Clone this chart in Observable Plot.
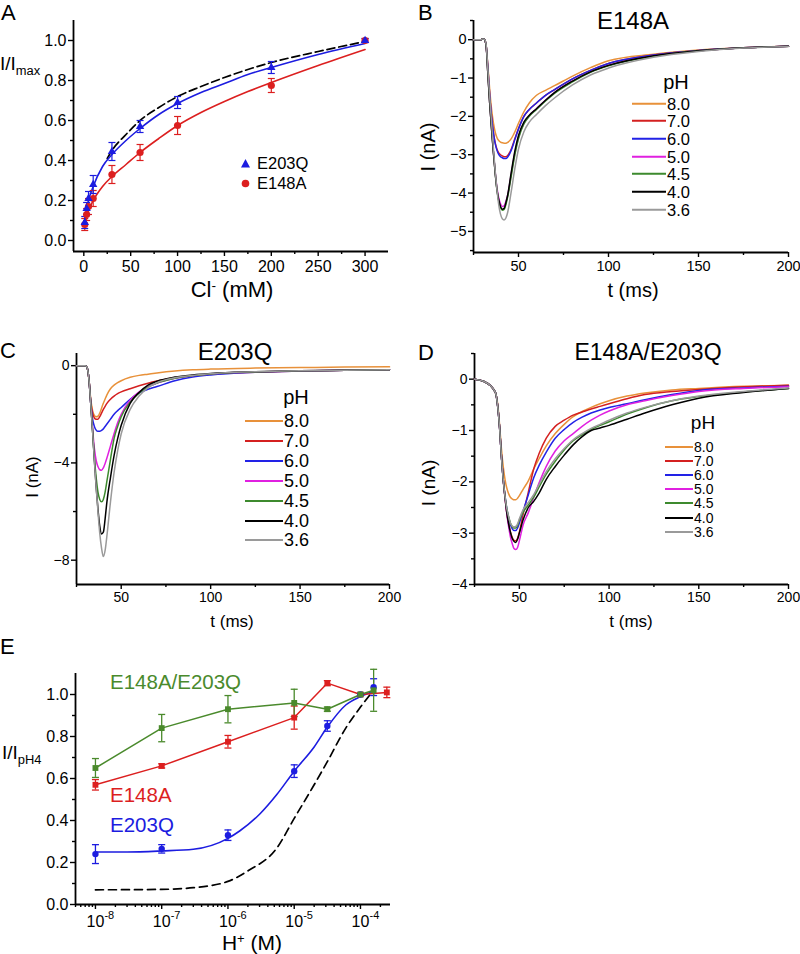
<!DOCTYPE html>
<html><head><meta charset="utf-8">
<script src="https://cdn.jsdelivr.net/npm/d3@7"></script>
<script src="https://cdn.jsdelivr.net/npm/@observablehq/plot@0.6"></script>
<style>
body{margin:0;background:#fff;}
#fig{position:relative;width:800px;height:954px;overflow:hidden;font-family:"Liberation Sans",Arial,sans-serif;color:#000;background:#fff;}
.abs{position:absolute;white-space:nowrap;line-height:1;}
.sub{font-size:0.68em;position:relative;top:0.38em;}
.sup{font-size:0.62em;position:relative;top:-0.55em;}
</style></head><body><div id="fig"></div><script>
// ---------------- DATA ----------------
// Panel A: Cl- dependence
const clX = [1, 3, 5, 10, 30, 60, 100, 200, 300];
const a203Y = [0.09, 0.16, 0.21, 0.28, 0.445, 0.57, 0.69, 0.865, 1.0];
const a203Err = [0.03, 0.03, 0.035, 0.045, 0.045, 0.03, 0.03, 0.03, 0.01];
const a148Y = [0.08, 0.13, 0.17, 0.21, 0.33, 0.44, 0.575, 0.775, 1.0];
const a148Err = [0.03, 0.03, 0.04, 0.04, 0.045, 0.04, 0.045, 0.035, 0.01];
const aFitX = [1, 3, 5, 10, 20, 30, 45, 60, 80, 100, 125, 150, 175, 200, 250, 300];
const aFit203 = [0.1, 0.16, 0.2, 0.27, 0.37, 0.43, 0.5, 0.56, 0.63, 0.685, 0.74, 0.785, 0.83, 0.865, 0.93, 0.985];
const aFit148 = [0.07, 0.12, 0.15, 0.2, 0.27, 0.32, 0.38, 0.44, 0.51, 0.575, 0.64, 0.695, 0.745, 0.79, 0.875, 0.955];
const aDashX = [25, 30, 45, 60, 80, 100, 125, 150, 175, 200, 250, 300];
const aDashY = [0.41, 0.45, 0.53, 0.6, 0.665, 0.72, 0.77, 0.815, 0.855, 0.89, 0.945, 0.995];

// pH series (shared by B, C, D)
const pHLabels = ["8.0", "7.0", "6.0", "5.0", "4.5", "4.0", "3.6"];
const pHColors = ["#e8913a", "#d42020", "#2222e6", "#e020e0", "#3d8a2e", "#000000", "#9a9a9a"];

// Panel B: E148A traces
const tB = [25,29,30,31,32,33,34,35,36,37,38,39,40,41,42,43,44,46,48,50,53,56,60,65,70,80,90,100,125,150,175,200];
const B80 = [0,0,0.02,0.01,-0.15,-0.7,-1.3,-1.8,-2.15,-2.4,-2.55,-2.63,-2.67,-2.69,-2.7,-2.7,-2.68,-2.58,-2.4,-2.18,-1.88,-1.65,-1.45,-1.32,-1.2,-0.95,-0.73,-0.55,-0.38,-0.27,-0.21,-0.17];
const B70 = [0,0,0.02,0.01,-0.15,-0.75,-1.45,-2.0,-2.4,-2.68,-2.85,-2.95,-3.0,-3.03,-3.05,-3.05,-3.02,-2.85,-2.58,-2.32,-2.0,-1.82,-1.65,-1.45,-1.3,-1.02,-0.8,-0.62,-0.4,-0.28,-0.21,-0.17];
const B60 = [0,0,0.02,0.01,-0.15,-0.75,-1.45,-2.0,-2.42,-2.7,-2.88,-2.99,-3.05,-3.08,-3.1,-3.1,-3.06,-2.88,-2.6,-2.33,-2.0,-1.82,-1.65,-1.45,-1.3,-1.02,-0.8,-0.62,-0.4,-0.28,-0.21,-0.17];
const B50 = [0,0,0.02,0.01,-0.15,-0.9,-1.65,-2.3,-2.9,-3.42,-3.85,-4.12,-4.28,-4.35,-4.33,-4.22,-4.05,-3.5,-2.95,-2.55,-2.18,-1.98,-1.8,-1.58,-1.38,-1.08,-0.84,-0.67,-0.42,-0.29,-0.21,-0.17];
const B45 = [0,0,0.02,0.01,-0.15,-0.9,-1.65,-2.3,-2.9,-3.45,-3.9,-4.2,-4.37,-4.45,-4.43,-4.3,-4.1,-3.55,-3.0,-2.58,-2.2,-2.0,-1.82,-1.6,-1.4,-1.1,-0.85,-0.68,-0.43,-0.29,-0.21,-0.17];
const B40 = [0,0,0.02,0.01,-0.15,-0.9,-1.65,-2.3,-2.9,-3.45,-3.9,-4.18,-4.35,-4.42,-4.4,-4.25,-4.05,-3.45,-2.9,-2.5,-2.15,-1.97,-1.8,-1.58,-1.38,-1.08,-0.84,-0.67,-0.42,-0.29,-0.21,-0.17];
const B36 = [0,0,0.02,0.01,-0.12,-0.8,-1.5,-2.15,-2.8,-3.4,-3.9,-4.3,-4.55,-4.67,-4.7,-4.65,-4.5,-3.95,-3.35,-2.85,-2.4,-2.15,-1.95,-1.72,-1.52,-1.18,-0.92,-0.74,-0.46,-0.31,-0.22,-0.18];

// Panel C: E203Q traces
const tC = [25,30,31,32,33,34,35,36,37,38,39,40,41,42,44,46,48,50,55,60,65,70,80,90,100,125,150,175,200];
const C80 = [0,0,-0.1,-0.6,-1.4,-1.85,-2.05,-2.1,-2.08,-1.95,-1.75,-1.55,-1.37,-1.2,-0.95,-0.8,-0.7,-0.62,-0.48,-0.4,-0.35,-0.3,-0.22,-0.17,-0.14,-0.1,-0.08,-0.06,-0.05];
const C70 = [0,0,-0.1,-0.6,-1.5,-1.95,-2.15,-2.2,-2.2,-2.1,-1.95,-1.8,-1.67,-1.55,-1.38,-1.25,-1.15,-1.08,-0.95,-0.83,-0.72,-0.63,-0.5,-0.41,-0.35,-0.27,-0.22,-0.19,-0.17];
const C60 = [0,0,-0.1,-0.6,-1.55,-2.2,-2.5,-2.65,-2.7,-2.7,-2.66,-2.6,-2.5,-2.4,-2.2,-2.0,-1.85,-1.72,-1.38,-1.12,-0.97,-0.86,-0.62,-0.47,-0.38,-0.27,-0.22,-0.19,-0.17];
const C50 = [0,0,-0.1,-0.6,-1.6,-2.6,-3.4,-3.9,-4.15,-4.28,-4.3,-4.2,-4.02,-3.8,-3.3,-2.8,-2.35,-2.0,-1.42,-1.08,-0.86,-0.72,-0.52,-0.41,-0.34,-0.26,-0.21,-0.19,-0.17];
const C45 = [0,0,-0.1,-0.6,-1.6,-2.7,-3.8,-4.6,-5.2,-5.5,-5.6,-5.5,-5.2,-4.75,-3.85,-3.0,-2.5,-2.1,-1.5,-1.12,-0.88,-0.72,-0.52,-0.41,-0.34,-0.26,-0.21,-0.19,-0.17];
const C40 = [0,0,-0.1,-0.6,-1.6,-2.7,-3.9,-5.0,-5.9,-6.6,-6.92,-6.85,-6.3,-5.6,-4.6,-3.7,-3.0,-2.45,-1.55,-1.1,-0.8,-0.64,-0.47,-0.38,-0.32,-0.25,-0.21,-0.19,-0.17];
const C36 = [0,0,-0.1,-0.6,-1.6,-2.7,-3.9,-5.0,-6.0,-6.9,-7.5,-7.85,-7.6,-7.0,-5.6,-4.4,-3.5,-2.8,-1.8,-1.25,-0.9,-0.7,-0.5,-0.4,-0.33,-0.25,-0.21,-0.19,-0.17];

// Panel D: E148A/E203Q traces
const tD = [25,30,34,36,37,38,39,40,41,42,43,44,45,46,47,48,49,50,52,55,58,61,65,70,75,80,85,90,95,100,110,120,135,150,175,200];
const D80 = [0,-0.04,-0.13,-0.22,-0.3,-0.5,-0.9,-1.35,-1.7,-1.95,-2.12,-2.23,-2.3,-2.33,-2.35,-2.35,-2.32,-2.27,-2.15,-1.98,-1.75,-1.55,-1.3,-1.06,-0.88,-0.73,-0.63,-0.55,-0.48,-0.42,-0.33,-0.27,-0.21,-0.18,-0.14,-0.12];
const D70 = [0,-0.04,-0.13,-0.22,-0.3,-0.55,-0.95,-1.5,-1.95,-2.3,-2.6,-2.8,-2.97,-3.08,-3.14,-3.15,-3.1,-2.98,-2.65,-2.2,-1.75,-1.45,-1.15,-0.92,-0.8,-0.7,-0.64,-0.58,-0.53,-0.48,-0.38,-0.3,-0.24,-0.2,-0.15,-0.12];
const D60 = [0,-0.04,-0.13,-0.22,-0.3,-0.55,-0.95,-1.5,-1.95,-2.28,-2.52,-2.7,-2.83,-2.91,-2.95,-2.95,-2.9,-2.8,-2.58,-2.25,-1.92,-1.68,-1.42,-1.15,-0.98,-0.84,-0.74,-0.66,-0.6,-0.55,-0.48,-0.4,-0.3,-0.22,-0.17,-0.14];
const D50 = [0,-0.04,-0.13,-0.22,-0.3,-0.55,-0.95,-1.5,-1.95,-2.3,-2.62,-2.87,-3.07,-3.2,-3.3,-3.32,-3.28,-3.15,-2.85,-2.6,-2.3,-2.02,-1.7,-1.4,-1.2,-1.06,-0.92,-0.8,-0.7,-0.62,-0.5,-0.42,-0.32,-0.24,-0.18,-0.15];
const D45 = [0,-0.04,-0.13,-0.22,-0.3,-0.55,-0.95,-1.5,-1.95,-2.28,-2.52,-2.68,-2.8,-2.87,-2.9,-2.9,-2.85,-2.75,-2.6,-2.45,-2.3,-2.1,-1.85,-1.6,-1.38,-1.2,-1.08,-0.98,-0.9,-0.83,-0.68,-0.56,-0.42,-0.34,-0.25,-0.18];
const D40 = [0,-0.04,-0.13,-0.22,-0.3,-0.55,-0.95,-1.5,-1.95,-2.3,-2.6,-2.82,-2.98,-3.1,-3.16,-3.18,-3.12,-3.0,-2.75,-2.5,-2.38,-2.22,-1.95,-1.7,-1.48,-1.28,-1.12,-1.0,-0.95,-0.9,-0.78,-0.66,-0.5,-0.37,-0.26,-0.18];
const D36 = [0,-0.04,-0.13,-0.22,-0.3,-0.55,-0.95,-1.5,-1.95,-2.28,-2.52,-2.68,-2.8,-2.86,-2.88,-2.87,-2.82,-2.72,-2.55,-2.4,-2.25,-2.05,-1.8,-1.55,-1.35,-1.18,-1.06,-0.96,-0.88,-0.8,-0.66,-0.55,-0.42,-0.33,-0.24,-0.17];

// Panel E: pH dependence (H+ in M)
const eGreenX = [1e-8, 1e-7, 1e-6, 1e-5, 3.16e-5, 1e-4, 1.58e-4];
const eGreenY = [0.65, 0.84, 0.93, 0.96, 0.93, 1.0, 1.02];
const eGreenErr = [0.045, 0.065, 0.065, 0.065, 0.01, 0.005, 0.1];
const eRedX = [1e-8, 1e-7, 1e-6, 1e-5, 3.16e-5, 1e-4, 2.5e-4];
const eRedY = [0.57, 0.66, 0.775, 0.89, 1.054, 1.0, 1.01];
const eRedErr = [0.025, 0.01, 0.03, 0.055, 0.012, 0.005, 0.025];
const eBlueX = [1e-8, 1e-7, 1e-6, 1e-5, 3.16e-5, 1e-4, 1.58e-4];
const eBlueY = [0.24, 0.265, 0.33, 0.635, 0.85, 1.0, 1.035];
const eBlueErr = [0.045, 0.02, 0.025, 0.03, 0.025, 0.005, 0.04];
const eFitX = [1e-8, 3e-8, 1e-7, 3e-7, 1e-6, 1.5e-6, 3e-6, 5.5e-6, 1e-5, 2e-5, 3.16e-5, 6e-5, 1e-4, 1.4e-4];
const eFitY = [0.25, 0.25, 0.255, 0.263, 0.315, 0.35, 0.43, 0.525, 0.635, 0.75, 0.845, 0.95, 0.99, 1.01];
const eDashX = [1e-8, 1e-7, 3e-7, 1e-6, 2e-6, 5.5e-6, 1e-5, 2e-5, 3.16e-5, 6e-5, 1e-4, 1.4e-4];
const eDashY = [0.07, 0.072, 0.08, 0.11, 0.16, 0.27, 0.41, 0.57, 0.68, 0.84, 0.94, 1.0];
const hTicks = [1e-8, 1e-7, 1e-6, 1e-5, 1e-4];
const hTickBase = ["10", "10", "10", "10", "10"];
const hTickExp = ["-8", "-7", "-6", "-5", "-4"];

// ---------------- HELPERS ----------------
const FONT = '"Liberation Sans", Arial, Helvetica, sans-serif';
const BLUE = "#1c1ce0", RED = "#dc1f1f", GREEN = "#4a8a2c";
const fig = document.getElementById("fig");
const zip = (xs, ys, extra = {}) => xs.map((x, i) => {
  const o = {x, y: ys[i]};
  for (const k in extra) o[k] = extra[k][i];
  return o;
});
const traces = (t, series) => pHLabels.flatMap((p, i) => t.map((tt, j) => ({t: tt, I: series[i][j], pH: p})));
const cap = (hw) => ({draw(ctx) { ctx.moveTo(-hw, 0); ctx.lineTo(hw, 0); }});

function place(svg, left, top) {
  const w = document.createElement("div");
  w.style.cssText = `position:absolute;left:${left}px;top:${top}px;`;
  w.appendChild(svg);
  fig.appendChild(w);
}
function label(html, x, y, size, opts = {}) {
  const d = document.createElement("div");
  d.className = "abs";
  d.innerHTML = html;
  d.style.left = x + "px";
  d.style.top = y + "px";
  d.style.fontSize = size + "px";
  const a = opts.anchor || "middle";
  const tx = a === "middle" ? "-50%" : a === "end" ? "-100%" : "0";
  d.style.transform = `translate(${tx},-50%)` + (opts.rotate ? ` rotate(${opts.rotate}deg)` : "");
  if (opts.color) d.style.color = opts.color;
  fig.appendChild(d);
}
function axes(xDom, yDom, xMajor, xMinor, yMajor, yMinor, fmtX, fmtY, fs, xPad = 3) {
  return [
    Plot.axisY({ticks: yMinor, tickSize: 3, tickFormat: () => "", label: null, strokeWidth: 1.4}),
    Plot.axisY({ticks: yMajor, tickSize: 5, tickPadding: 2, tickFormat: fmtY, label: null, fontSize: fs, strokeWidth: 1.4}),
    Plot.axisX({ticks: xMinor, tickSize: 3, tickFormat: () => "", label: null, strokeWidth: 1.4}),
    Plot.axisX({ticks: xMajor, tickSize: 5, tickPadding: xPad, tickFormat: fmtX, label: null, fontSize: fs, strokeWidth: 1.4}),
    Plot.ruleX([xDom[0]], {strokeWidth: 1.8}),
    Plot.ruleY([yDom[0]], {strokeWidth: 1.8})
  ];
}
const baseStyle = (fs) => ({fontFamily: FONT, fontSize: fs + "px", background: "transparent", overflow: "visible", color: "#000"});
function legendPH(x0, y0, dy, lineW, fs) {
  pHLabels.forEach((p, i) => {
    const d = document.createElement("div");
    d.className = "abs";
    d.style.cssText += `left:${x0}px;top:${y0 + i * dy}px;font-size:${fs}px;transform:translate(0,-50%);display:flex;align-items:center;`;
    d.innerHTML = `<span style="display:inline-block;width:${lineW}px;height:2px;background:${pHColors[i]};margin-right:1px"></span><span>${p}</span>`;
    fig.appendChild(d);
  });
}

// ---------------- PANEL A ----------------
{
  const xDom = [-11, 325], yDom = [-0.055, 1.1];
  const d203 = zip(clX, a203Y, {e: a203Err});
  const d148 = zip(clX, a148Y, {e: a148Err});
  const svg = Plot.plot({
    width: 400, height: 300, marginLeft: 73, marginRight: 12, marginTop: 20, marginBottom: 49,
    x: {domain: xDom}, y: {domain: yDom},
    style: baseStyle(16),
    marks: [
      ...axes(xDom, yDom, [0, 50, 100, 150, 200, 250, 300], [25, 75, 125, 175, 225, 275],
        [0, 0.2, 0.4, 0.6, 0.8, 1.0], [0.1, 0.3, 0.5, 0.7, 0.9], d3.format("d"), d3.format(".1f"), 16, 4),
      Plot.line(zip(aDashX, aDashY), {x: "x", y: "y", stroke: "#000", strokeWidth: 1.7, strokeDasharray: "8,4", curve: "monotone-x"}),
      Plot.line(zip(aFitX, aFit148), {x: "x", y: "y", stroke: RED, strokeWidth: 1.6, curve: "monotone-x"}),
      Plot.line(zip(aFitX, aFit203), {x: "x", y: "y", stroke: BLUE, strokeWidth: 1.6, curve: "monotone-x"}),
      Plot.ruleX(d148, {x: "x", y1: d => d.y - d.e, y2: d => d.y + d.e, stroke: RED, strokeWidth: 1.2}),
      Plot.dot(d148, {x: "x", y: d => d.y + d.e, symbol: cap(3.5), stroke: RED, fill: "none", strokeWidth: 1.2}),
      Plot.dot(d148, {x: "x", y: d => d.y - d.e, symbol: cap(3.5), stroke: RED, fill: "none", strokeWidth: 1.2}),
      Plot.ruleX(d203, {x: "x", y1: d => d.y - d.e, y2: d => d.y + d.e, stroke: BLUE, strokeWidth: 1.2}),
      Plot.dot(d203, {x: "x", y: d => d.y + d.e, symbol: cap(3.5), stroke: BLUE, fill: "none", strokeWidth: 1.2}),
      Plot.dot(d203, {x: "x", y: d => d.y - d.e, symbol: cap(3.5), stroke: BLUE, fill: "none", strokeWidth: 1.2}),
      Plot.dot(d148, {x: "x", y: "y", r: 3.6, fill: RED, stroke: "none"}),
      Plot.dot(d203, {x: "x", y: "y", r: 3.1, symbol: "triangle", fill: BLUE, stroke: "none"})
    ]
  });
  place(svg, 0, 0);
  label("A", 1, 12.5, 22, {anchor: "start"});
  label('I/I<span class="sub">max</span>', 0, 63, 19, {anchor: "start"});
  label('Cl<span class="sup">-</span> (mM)', 232, 290, 22);
  const lg = document.createElement("div");
  lg.className = "abs";
  lg.style.cssText += "left:240px;top:153px;font-size:16.5px;line-height:20px;";
  lg.innerHTML = `<div style="display:flex;align-items:center"><svg width="11" height="11" style="margin-right:6px"><polygon points="5.5,1 10,9.5 1,9.5" fill="${BLUE}"/></svg>E203Q</div>` +
    `<div style="display:flex;align-items:center"><svg width="11" height="11" style="margin-right:6px"><circle cx="5.5" cy="5.5" r="3.8" fill="${RED}"/></svg>E148A</div>`;
  fig.appendChild(lg);
}

// ---------------- PANEL B ----------------
{
  const xDom = [25, 200], yDom = [-5.55, 0.5];
  const svg = Plot.plot({
    width: 400, height: 300, marginLeft: 73, marginRight: 12, marginTop: 20, marginBottom: 48,
    x: {domain: xDom}, y: {domain: yDom},
    color: {domain: pHLabels, range: pHColors},
    style: baseStyle(14.5),
    marks: [
      ...axes(xDom, yDom, [50, 100, 150, 200], [25, 75, 125, 175],
        [0, -1, -2, -3, -4, -5], [0.5, -0.5, -1.5, -2.5, -3.5, -4.5, -5.5], d3.format("d"), d3.format("d"), 14.5),
      Plot.line(traces(tB, [B80, B70, B60, B50, B45, B40, B36]), {x: "t", y: "I", z: "pH", stroke: "pH", strokeWidth: 1.5, curve: "monotone-x"})
    ]
  });
  place(svg, 400, 0);
  label("B", 418, 12.5, 22, {anchor: "start"});
  label("E148A", 633, 21, 24);
  label("I (nA)", 428, 147, 20, {rotate: -90});
  label("t (ms)", 633, 290, 20);
  label("pH", 676, 82, 20);
  legendPH(632, 103.5, 17.67, 34, 16.5);
}

// ---------------- PANEL C ----------------
{
  const xDom = [25, 200], yDom = [-9, 0.5];
  const svg = Plot.plot({
    width: 400, height: 330, marginLeft: 76, marginRight: 11, marginTop: 53, marginBottom: 46,
    x: {domain: xDom}, y: {domain: yDom},
    color: {domain: pHLabels, range: pHColors},
    style: baseStyle(14),
    marks: [
      ...axes(xDom, yDom, [50, 100, 150, 200], [25, 75, 125, 175],
        [0, -4, -8], [-2, -6], d3.format("d"), d3.format("d"), 14),
      Plot.line(traces(tC, [C80, C70, C60, C50, C45, C40, C36]), {x: "t", y: "I", z: "pH", stroke: "pH", strokeWidth: 1.5, curve: "monotone-x"})
    ]
  });
  place(svg, 0, 300);
  label("C", 0, 351, 22, {anchor: "start"});
  label("E203Q", 235, 352, 24);
  label("I (nA)", 32, 477, 17, {rotate: -90});
  label("t (ms)", 232, 621, 17);
  label("pH", 296, 397, 20);
  legendPH(245, 421, 19.9, 38, 18);
}

// ---------------- PANEL D ----------------
{
  const xDom = [25, 200], yDom = [-4, 0.5];
  const svg = Plot.plot({
    width: 400, height: 330, marginLeft: 74, marginRight: 12, marginTop: 53, marginBottom: 46,
    x: {domain: xDom}, y: {domain: yDom},
    color: {domain: pHLabels, range: pHColors},
    style: baseStyle(14),
    marks: [
      ...axes(xDom, yDom, [50, 100, 150, 200], [25, 75, 125, 175],
        [0, -1, -2, -3, -4], [0.5, -0.5, -1.5, -2.5, -3.5], d3.format("d"), d3.format("d"), 14),
      Plot.line(traces(tD, [D80, D70, D60, D50, D45, D40, D36]), {x: "t", y: "I", z: "pH", stroke: "pH", strokeWidth: 1.5, curve: "monotone-x"})
    ]
  });
  place(svg, 400, 300);
  label("D", 418, 353, 22, {anchor: "start"});
  label("E148A/E203Q", 648, 352, 23);
  label("I (nA)", 428, 483, 19, {rotate: -90});
  label("t (ms)", 631, 621, 17);
  label("pH", 703, 422, 19);
  legendPH(665, 447, 14.1, 28, 14);
}

// ---------------- PANEL E ----------------
{
  const xDom = [5.0e-9, 2.84e-4], yDom = [0, 1.1];
  const g = zip(eGreenX, eGreenY, {e: eGreenErr});
  const r = zip(eRedX, eRedY, {e: eRedErr});
  const b = zip(eBlueX, eBlueY, {e: eBlueErr});
  const minor = [];
  for (let e = -9; e <= -4; e++) for (let m = 2; m <= 9; m++) { const v = m * Math.pow(10, e); if (v >= xDom[0] && v <= xDom[1]) minor.push(v); }
  const errMarks = (d, c) => [
    Plot.ruleX(d, {x: "x", y1: v => v.y - v.e, y2: v => v.y + v.e, stroke: c, strokeWidth: 1.3}),
    Plot.dot(d, {x: "x", y: v => v.y + v.e, symbol: cap(3.5), stroke: c, fill: "none", strokeWidth: 1.3}),
    Plot.dot(d, {x: "x", y: v => v.y - v.e, symbol: cap(3.5), stroke: c, fill: "none", strokeWidth: 1.3})
  ];
  const svg = Plot.plot({
    width: 400, height: 324, marginLeft: 75, marginRight: 10, marginTop: 43, marginBottom: 50,
    x: {type: "log", domain: xDom}, y: {domain: yDom},
    style: baseStyle(16),
    marks: [
      ...axes(xDom, yDom, hTicks, minor, [0, 0.2, 0.4, 0.6, 0.8, 1.0], [0.1, 0.3, 0.5, 0.7, 0.9],
        (v) => hTickBase[hTicks.indexOf(v)], d3.format(".1f"), 16, 6),
      Plot.text(hTicks, {x: d => d, text: (d, i) => hTickExp[i], frameAnchor: "bottom", dy: 14, dx: 9, textAnchor: "start", fontSize: 11}),
      Plot.line(zip(eDashX, eDashY), {x: "x", y: "y", stroke: "#000", strokeWidth: 1.7, strokeDasharray: "8,5", curve: "monotone-x"}),
      Plot.line(zip(eFitX, eFitY), {x: "x", y: "y", stroke: BLUE, strokeWidth: 1.6, curve: "monotone-x"}),
      Plot.line(r, {x: "x", y: "y", stroke: RED, strokeWidth: 1.5}),
      Plot.line(g, {x: "x", y: "y", stroke: GREEN, strokeWidth: 1.5}),
      ...errMarks(r, RED),
      ...errMarks(b, BLUE),
      ...errMarks(g, GREEN),
      Plot.dot(r, {x: "x", y: "y", symbol: "square", r: 3.3, fill: RED, stroke: "none"}),
      Plot.dot(b, {x: "x", y: "y", r: 3.2, fill: BLUE, stroke: "none"}),
      Plot.dot(g, {x: "x", y: "y", symbol: "square", r: 3.3, fill: GREEN, stroke: "none"})
    ]
  });
  place(svg, 0, 630);
  label("E", 0, 647, 22, {anchor: "start"});
  label('I/I<span class="sub">pH4</span>', 2, 752, 19, {anchor: "start"});
  label('H<span class="sup">+</span> (M)', 252, 942, 21);
  label("E148A/E203Q", 110, 682, 20.5, {anchor: "start", color: GREEN});
  label("E148A", 110, 795, 20.5, {anchor: "start", color: RED});
  label("E203Q", 110, 825, 20.5, {anchor: "start", color: BLUE});
}
</script></body></html>
